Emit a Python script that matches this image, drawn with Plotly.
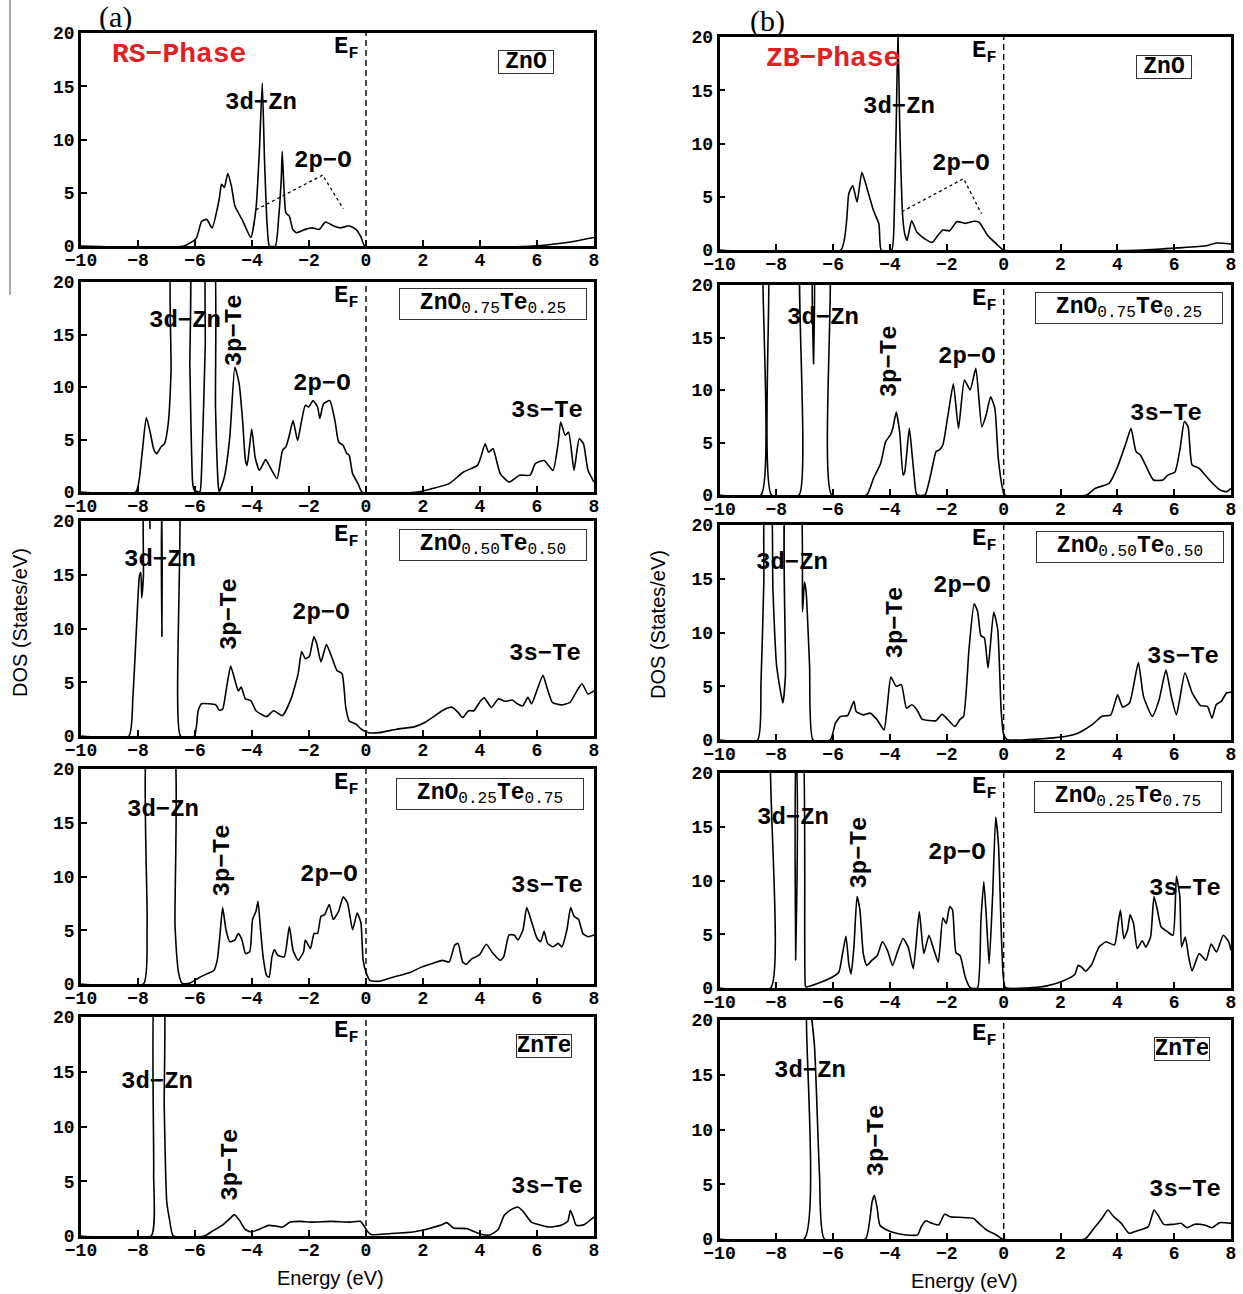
import plotly.graph_objects as go

W, H = 1243, 1294
MONO = "Liberation Mono"

# ---------------- data: (energy in eV, DOS in states/eV) ----------------
rs_zno = [(-10, 0), (-6.39, 0), (-5.96, 0.7), (-5.77, 2.3), (-5.59, 2.5), (-5.40, 1.7), (-5.15, 4.4),
          (-5.07, 5.8), (-4.97, 5.5), (-4.85, 6.8), (-4.72, 5.6), (-4.60, 3.75), (-4.35, 2.5), (-4.04, 0.8),
          (-3.86, 3.5), (-3.74, 9.0), (-3.64, 15.3), (-3.56, 8.0), (-3.47, 2.0), (-3.39, 0), (-3.18, 0),
          (-3.06, 2.8), (-2.97, 6.5), (-2.94, 8.9), (-2.88, 5.5), (-2.81, 3.1), (-2.69, 2.8), (-2.57, 1.56),
          (-2.44, 1.25), (-2.13, 1.56), (-1.89, 1.7), (-1.64, 1.56), (-1.42, 2.25), (-1.15, 1.9), (-0.90, 1.7),
          (-0.60, 1.9), (-0.35, 1.56), (-0.17, 0.8), (-0.04, 0), (5.88, 0), (6.99, 0.3), (8.0, 0.8)]

rs_zno75 = [(-10, 0), (-8.08, 0), (-7.87, 3.33), (-7.71, 7.1), (-7.59, 5.9), (-7.44, 4.0), (-7.34, 3.65),
            (-7.19, 4.3), (-7.07, 4.6), (-6.94, 6.5), (-6.84, 11.6), (-6.78, 24), (-6.25, 24), (-6.18, 12),
            (-6.08, 0.8), (-6.02, 0.16), (-5.83, 0), (-5.77, 2), (-5.64, 14), (-5.58, 24), (-5.36, 24),
            (-5.28, 8), (-5.18, 0.5), (-5.15, 0), (-4.97, 1.43), (-4.78, 5.2), (-4.60, 11.9), (-4.45, 10.3),
            (-4.33, 6.8), (-4.23, 3.0), (-4.17, 2.54), (-4.01, 6.0), (-3.89, 3.3), (-3.74, 2.06), (-3.52, 3.08),
            (-3.37, 2.38), (-3.12, 1.27), (-2.93, 3.97), (-2.81, 4.3), (-2.69, 5.4), (-2.56, 6.8), (-2.40, 4.9),
            (-2.26, 6.8), (-2.13, 8.25), (-2.01, 8.1), (-1.86, 8.7), (-1.70, 8.1), (-1.62, 7.0), (-1.49, 8.4),
            (-1.27, 8.7), (-1.09, 6.8), (-0.96, 4.76), (-0.80, 4.44), (-0.68, 3.7), (-0.59, 3.5), (-0.47, 1.75),
            (-0.28, 0.8), (-0.14, 0), (1.81, 0), (2.31, 0.32), (2.92, 0.8), (3.42, 1.9), (3.91, 2.54),
            (4.03, 3.33), (4.18, 4.6), (4.30, 3.8), (4.46, 4.13), (4.58, 3.0), (4.71, 1.75), (5.02, 0.95),
            (5.39, 1.6), (5.76, 1.6), (5.94, 2.7), (6.25, 3.0), (6.56, 2.06), (6.74, 4.6), (6.83, 6.67),
            (6.99, 5.4), (7.11, 5.7), (7.30, 2.06), (7.48, 5.08), (7.63, 4.6), (7.79, 2.06), (8.0, 0.95)]

rs_zno50 = [(-10, 0), (-8.32, 0), (-8.18, 3.6), (-8.05, 10.2), (-7.95, 14.9), (-7.90, 15.2), (-7.87, 12.85),
            (-7.81, 14.9), (-7.77, 24), (-7.62, 24), (-7.58, 19.3), (-7.54, 24), (-7.26, 24), (-7.16, 9.25),
            (-7.06, 24), (-6.62, 24), (-6.51, 0), (-6.02, 0), (-5.89, 2.35), (-5.77, 3.0), (-5.52, 3.0),
            (-5.27, 2.9), (-5.15, 2.4), (-5.03, 2.5), (-4.91, 4.2), (-4.75, 6.5), (-4.60, 5.2), (-4.48, 4.2),
            (-4.38, 4.55), (-4.23, 3.45), (-4.04, 3.3), (-3.86, 2.35), (-3.49, 1.8), (-3.24, 2.35), (-2.93, 1.9),
            (-2.63, 3.45), (-2.38, 5.8), (-2.26, 7.85), (-2.13, 7.2), (-1.99, 7.4), (-1.83, 9.25), (-1.73, 8.6),
            (-1.58, 6.9), (-1.39, 8.5), (-1.21, 7.4), (-1.02, 6.1), (-0.84, 5.8), (-0.71, 2.66), (-0.59, 1.4),
            (-0.35, 1.1), (-0.16, 0.63), (0.09, 0.31), (0.46, 0.31), (1.07, 0.63), (1.69, 0.85), (2.06, 1.25),
            (2.43, 1.9), (2.67, 2.35), (2.92, 2.66), (3.04, 2.66), (3.23, 2.2), (3.39, 1.72), (3.60, 2.35),
            (3.78, 2.35), (4.03, 3.3), (4.15, 3.55), (4.40, 2.66), (4.64, 3.45), (4.88, 3.23), (5.13, 3.35),
            (5.31, 3.0), (5.50, 2.8), (5.68, 3.6), (5.81, 3.0), (5.99, 4.2), (6.21, 5.65), (6.36, 4.4),
            (6.54, 3.13), (6.85, 2.9), (7.16, 3.13), (7.40, 4.2), (7.58, 4.86), (7.79, 3.9), (8.0, 4.2)]

rs_zno25 = [(-10, 0), (-7.81, 0), (-7.68, 5.35), (-7.60, 24), (-6.82, 24), (-6.70, 5.35), (-6.57, 0.94),
            (-6.45, 0.06), (-6.20, 0.06), (-5.83, 0.63), (-5.59, 0.94), (-5.34, 1.26), (-5.22, 2.2), (-5.12, 4.7),
            (-5.03, 7.1), (-4.91, 5.0), (-4.78, 3.94), (-4.60, 4.1), (-4.48, 4.7), (-4.35, 4.1), (-4.23, 2.83),
            (-4.08, 3.0), (-3.98, 6.0), (-3.86, 6.77), (-3.79, 7.7), (-3.71, 5.35), (-3.61, 2.52), (-3.49, 0.8),
            (-3.40, 0.63), (-3.30, 2.52), (-3.21, 3.2), (-3.10, 2.68), (-2.87, 2.52), (-2.69, 5.35), (-2.56, 3.15),
            (-2.38, 2.2), (-2.19, 3.0), (-2.13, 4.1), (-1.95, 3.3), (-1.82, 4.7), (-1.70, 4.7), (-1.58, 6.3),
            (-1.45, 6.45), (-1.29, 7.4), (-1.15, 6.0), (-0.96, 6.77), (-0.80, 8.1), (-0.65, 7.55), (-0.47, 5.05),
            (-0.31, 6.6), (-0.18, 5.7), (-0.10, 2.2), (0.02, 0.94), (0.15, 0.31), (0.46, 0.25), (0.95, 0.63),
            (1.57, 1.1), (1.94, 1.57), (2.31, 1.9), (2.68, 2.2), (2.92, 2.05), (3.11, 3.6), (3.23, 3.78),
            (3.39, 2.05), (3.52, 1.83), (3.72, 2.36), (3.97, 2.68), (4.22, 3.7), (4.46, 2.83), (4.71, 2.2),
            (4.83, 2.52), (5.02, 4.56), (5.20, 4.56), (5.33, 4.1), (5.51, 5.05), (5.64, 7.1), (5.82, 5.7),
            (6.00, 4.25), (6.13, 3.94), (6.25, 4.9), (6.37, 3.78), (6.56, 3.46), (6.74, 3.78), (6.87, 3.46),
            (7.05, 5.05), (7.18, 7.1), (7.30, 6.3), (7.46, 6.0), (7.61, 4.7), (7.79, 4.4), (8.0, 4.56)]

rs_znte = [(-10, 0), (-7.54, 0), (-7.45, 5.8), (-7.38, 24), (-7.13, 24), (-7.08, 11.9), (-6.99, 3.1),
           (-6.90, 1.6), (-6.76, 0), (-5.67, 0), (-5.40, 0.43), (-5.05, 0.97), (-4.78, 1.58), (-4.62, 1.95),
           (-4.44, 1.43), (-4.24, 0.6), (-4.03, 0.37), (-3.76, 0.6), (-3.42, 0.97), (-3.15, 0.9), (-2.94, 0.8),
           (-2.66, 1.27), (-2.32, 1.34), (-1.91, 1.27), (-1.23, 1.34), (-0.55, 1.27), (-0.20, 1.34), (0.07, 0.37),
           (0.20, 0.12), (0.82, 0.21), (1.64, 0.37), (2.19, 0.67), (2.60, 0.97), (2.84, 1.22), (3.07, 0.73),
           (3.55, 0.67), (3.89, 0.3), (4.10, 0.12), (4.37, 0.12), (4.64, 0.6), (4.85, 1.89), (5.05, 2.34),
           (5.33, 2.65), (5.53, 2.19), (5.80, 1.27), (6.08, 1.03), (6.42, 0.82), (6.83, 0.97), (7.08, 1.34),
           (7.17, 2.34), (7.27, 1.73), (7.38, 0.97), (7.65, 1.03), (8.0, 1.73)]

zb_zno = [(-10, 0), (-5.73, 0), (-5.45, 5.3), (-5.31, 6.05), (-5.16, 4.5), (-4.99, 7.3), (-4.82, 5.9),
          (-4.58, 3.7), (-4.39, 2.45), (-4.31, 0), (-3.94, 0), (-3.85, 3.4), (-3.78, 12), (-3.72, 20.5),
          (-3.66, 12), (-3.55, 3.0), (-3.48, 1.5), (-3.40, 0.9), (-3.24, 2.75), (-3.05, 1.66), (-2.75, 1.0),
          (-2.51, 0.72), (-2.32, 1.35), (-2.14, 1.88), (-1.90, 1.8), (-1.65, 2.66), (-1.35, 2.5), (-1.04, 2.7),
          (-0.86, 2.6), (-0.56, 1.35), (-0.25, 0.56), (-0.01, 0), (4.93, 0), (6.15, 0.2), (7.12, 0.4),
          (7.49, 0.66), (8.0, 0.56)]

zb_zno75 = [(-10, 0), (-8.54, 0), (-8.45, 24), (-8.30, 24), (-8.17, 0), (-7.20, 0), (-7.12, 24), (-6.74, 24),
            (-6.69, 12.5), (-6.65, 24), (-6.18, 24), (-6.05, 0), (-4.82, 0), (-4.58, 1.6), (-4.33, 3.0),
            (-4.15, 5.1), (-3.99, 5.7), (-3.90, 6.35), (-3.78, 7.9), (-3.66, 6.0), (-3.54, 1.9), (-3.48, 2.2),
            (-3.32, 6.35), (-3.21, 3.5), (-3.09, 0.3), (-3.05, 0), (-2.77, 0), (-2.57, 1.9), (-2.38, 4.13),
            (-2.26, 4.3), (-2.14, 4.76), (-1.96, 7.6), (-1.77, 10.6), (-1.59, 6.35), (-1.38, 10.95), (-1.18, 10.0),
            (-0.98, 12.06), (-0.77, 6.5), (-0.62, 7.6), (-0.46, 9.36), (-0.31, 8.25), (-0.19, 3.5), (-0.04, 0.63),
            (0.03, 0), (2.92, 0), (3.22, 0.63), (3.71, 1.1), (4.01, 2.7), (4.32, 5.08), (4.48, 6.35), (4.66, 4.13),
            (4.81, 3.8), (4.99, 2.86), (5.27, 1.43), (5.60, 1.43), (5.78, 1.9), (6.03, 2.2), (6.21, 4.44),
            (6.36, 7.0), (6.49, 6.5), (6.63, 2.86), (6.88, 2.54), (7.24, 1.43), (7.61, 0.48), (7.85, 0.32),
            (8.0, 0.63)]

zb_zno50 = [(-10, 0), (-8.66, 0), (-8.54, 5.3), (-8.44, 14.7), (-8.38, 24), (-8.22, 24), (-8.12, 14),
            (-7.99, 6.9), (-7.77, 3.44), (-7.68, 6.0), (-7.62, 24), (-7.20, 24), (-7.08, 11.9), (-7.01, 14.7),
            (-6.95, 13.75), (-6.83, 6.9), (-6.71, 0), (-6.10, 0), (-5.92, 1.56), (-5.74, 2.2), (-5.49, 2.28),
            (-5.27, 3.6), (-5.19, 2.66), (-4.94, 2.34), (-4.70, 2.5), (-4.46, 1.9), (-4.21, 0.94), (-4.09, 3.3),
            (-3.97, 5.85), (-3.78, 5.0), (-3.60, 5.15), (-3.42, 2.97), (-3.23, 3.28), (-3.05, 2.8), (-2.87, 1.94),
            (-2.38, 1.8), (-2.17, 2.4), (-1.96, 1.88), (-1.71, 1.25), (-1.53, 1.94), (-1.41, 2.2), (-1.22, 8.44),
            (-1.04, 12.66), (-0.92, 12.0), (-0.80, 9.7), (-0.68, 9.5), (-0.55, 6.7), (-0.35, 11.9), (-0.21, 10.3),
            (-0.09, 2.8), (-0.01, 0.63), (0.11, 0.06), (1.52, 0.15), (2.25, 0.37), (2.61, 0.63), (3.10, 1.4),
            (3.46, 2.2), (3.77, 2.34), (4.01, 4.2), (4.19, 3.06), (4.43, 3.44), (4.74, 7.2), (4.92, 4.06),
            (5.23, 2.2), (5.47, 3.75), (5.71, 6.5), (5.90, 4.06), (6.08, 2.34), (6.38, 6.25), (6.63, 4.4),
            (6.93, 3.2), (7.17, 3.13), (7.33, 2.03), (7.48, 3.28), (7.66, 3.6), (7.85, 4.4), (8.0, 4.44)]

zb_zno25 = [(-10, 0), (-8.20, 0), (-8.12, 24), (-7.42, 24), (-7.32, 2.6), (-7.25, 24), (-7.10, 24),
            (-6.98, 0.2), (-6.95, 0.1), (-6.53, 0.44), (-6.04, 1.0), (-5.80, 1.47), (-5.67, 3.2), (-5.55, 4.8),
            (-5.45, 2.25), (-5.37, 1.3), (-5.27, 3.8), (-5.16, 8.5), (-5.06, 7.3), (-4.94, 3.2), (-4.82, 2.1),
            (-4.64, 2.57), (-4.45, 3.0), (-4.27, 4.3), (-4.09, 3.5), (-3.91, 2.1), (-3.72, 3.5), (-3.54, 4.6),
            (-3.36, 3.8), (-3.18, 1.8), (-2.97, 7.1), (-2.81, 3.2), (-2.63, 4.9), (-2.45, 3.5), (-2.30, 2.4),
            (-2.14, 6.5), (-2.02, 6.0), (-1.90, 7.57), (-1.80, 7.26), (-1.68, 3.3), (-1.53, 3.0), (-1.35, 1.0),
            (-1.17, 0), (-0.92, 0), (-0.80, 6.3), (-0.70, 9.9), (-0.61, 6.6), (-0.51, 2.25), (-0.39, 8.5),
            (-0.28, 15.9), (-0.18, 13.2), (-0.06, 3.5), (0.06, 0.06), (0.79, 0), (1.52, 0.2), (2.13, 0.7),
            (2.50, 1.25), (2.62, 2.1), (2.74, 1.94), (2.89, 1.56), (3.11, 2.25), (3.35, 3.8), (3.60, 4.3),
            (3.90, 4.0), (4.02, 5.85), (4.11, 7.26), (4.23, 4.6), (4.36, 5.4), (4.45, 6.8), (4.57, 6.0),
            (4.70, 3.66), (4.88, 4.4), (5.00, 3.8), (5.17, 4.75), (5.29, 8.5), (5.41, 7.26), (5.54, 5.7),
            (5.78, 5.2), (5.96, 4.9), (6.08, 10.4), (6.20, 8.5), (6.26, 3.8), (6.39, 4.75), (6.51, 2.9),
            (6.63, 1.6), (6.88, 3.2), (7.12, 2.57), (7.30, 4.1), (7.49, 3.35), (7.73, 4.9), (7.92, 4.3),
            (8.0, 3.5)]

zb_znte = [(-10, 0), (-7.02, 0), (-6.93, 20.5), (-6.82, 21), (-6.66, 17.7), (-6.48, 5.85), (-6.31, 0),
           (-4.86, 0), (-4.72, 1.58), (-4.63, 3.4), (-4.55, 4.0), (-4.45, 2.8), (-4.36, 1.28), (-4.11, 0.82),
           (-3.78, 0.52), (-3.44, 0.37), (-3.03, 0.37), (-2.90, 1.13), (-2.74, 1.67), (-2.52, 1.43),
           (-2.29, 1.28), (-2.08, 2.25), (-1.88, 2.04), (-1.54, 1.98), (-1.07, 1.89), (-0.87, 1.43),
           (-0.60, 0.82), (-0.26, 0.37), (-0.05, 0), (2.86, 0), (3.13, 0.82), (3.46, 1.89), (3.67, 2.65),
           (3.87, 2.04), (4.14, 1.43), (4.41, 0.52), (4.68, 0.73), (5.09, 1.13), (5.29, 2.65), (5.43, 2.19),
           (5.63, 1.34), (5.97, 1.34), (6.24, 1.43), (6.45, 1.03), (6.72, 1.34), (7.06, 1.28), (7.33, 1.03),
           (7.60, 1.49), (8.0, 1.43)]

# dotted guide lines pointing from the "2p-O" label
rs_zno_2p_guide = [(-3.86, 3.4), (-1.52, 6.66), (-0.80, 3.5)]
zb_zno_2p_guide = [(-3.58, 3.6), (-1.41, 6.7), (-0.78, 3.4)]

fermi_level = [(0, 0), (0, 20)]

x_ticks = [-10, -8, -6, -4, -2, 0, 2, 4, 6, 8]
y_ticks = [0, 5, 10, 15, 20]

SUBSTYLE = "<sub><span style='font-weight:normal'>{}</span></sub>"
compounds = ["ZnO",
             "ZnO" + SUBSTYLE.format("0.75") + "Te" + SUBSTYLE.format("0.25"),
             "ZnO" + SUBSTYLE.format("0.50") + "Te" + SUBSTYLE.format("0.50"),
             "ZnO" + SUBSTYLE.format("0.25") + "Te" + SUBSTYLE.format("0.75"),
             "ZnTe"]

# ---------------- layout geometry (pixels) ----------------
left_x_px = (81, 594)
right_x_px = (719.5, 1231)
left_rows_px = [(33, 246), (282, 492), (521, 736), (769, 984), (1017, 1236)]
right_rows_px = [(37, 250), (285, 495), (525, 740), (773, 988), (1020, 1239)]

series = [rs_zno, rs_zno75, rs_zno50, rs_zno25, rs_znte,
          zb_zno, zb_zno75, zb_zno50, zb_zno25, zb_znte]

# label positions (data coords) per panel
labels = {
    1: [("3d−Zn", -3.68, 13.5, 0), ("2p−O", -1.51, 8.0, 0)],
    2: [("3d−Zn", -6.35, 16.3, 0), ("3p−Te", -4.63, 15.4, -90), ("2p−O", -1.54, 10.3, 0), ("3s−Te", 6.35, 7.8, 0)],
    3: [("3d−Zn", -7.23, 16.4, 0), ("3p−Te", -4.77, 11.35, -90), ("2p−O", -1.58, 11.5, 0), ("3s−Te", 6.28, 7.7, 0)],
    4: [("3d−Zn", -7.12, 16.2, 0), ("3p−Te", -5.05, 11.5, -90), ("2p−O", -1.30, 10.2, 0), ("3s−Te", 6.35, 9.2, 0)],
    5: [("3d−Zn", -7.33, 14.15, 0), ("3p−Te", -4.74, 6.5, -90), ("3s−Te", 6.35, 4.5, 0)],
    6: [("3d−Zn", -3.70, 13.5, 0), ("2p−O", -1.51, 8.1, 0)],
    7: [("3d−Zn", -6.37, 16.9, 0), ("3p−Te", -4.01, 12.7, -90), ("2p−O", -1.30, 13.2, 0), ("3s−Te", 5.70, 7.8, 0)],
    8: [("3d−Zn", -7.46, 16.5, 0), ("3p−Te", -3.80, 10.9, -90), ("2p−O", -1.48, 14.4, 0), ("3s−Te", 6.30, 7.8, 0)],
    9: [("3d−Zn", -7.43, 15.9, 0), ("3p−Te", -5.07, 12.56, -90), ("2p−O", -1.65, 12.56, 0), ("3s−Te", 6.37, 9.3, 0)],
    10: [("3d−Zn", -6.83, 15.4, 0), ("3p−Te", -4.51, 8.95, -90), ("3s−Te", 6.37, 4.5, 0)],
}
box_pos = {1: (5.61, 17.3), 2: (4.46, 17.9), 3: (4.46, 17.77), 4: (4.35, 17.7), 5: (6.25, 17.35),
           6: (5.63, 17.2), 7: (4.40, 17.8), 8: (4.44, 17.95), 9: (4.37, 17.8), 10: (6.27, 17.35)}

fig = go.Figure()
layout = dict(width=W, height=H, margin=dict(l=0, r=0, t=0, b=0, pad=0, autoexpand=False),
              paper_bgcolor="white", plot_bgcolor="white", showlegend=False)
annotations = []
shapes = []

tickfont = dict(family=MONO, size=18, color="black", weight="bold")

for i in range(10):
    n = i + 1
    col = 0 if i < 5 else 1
    row = i % 5
    xpx = left_x_px if col == 0 else right_x_px
    ypx = (left_rows_px if col == 0 else right_rows_px)[row]
    xs = "" if n == 1 else str(n)
    common = dict(showline=True, linewidth=2.5, linecolor="black", mirror=True,
                  ticks="inside", ticklen=6, tickwidth=1.5, tickcolor="black",
                  showgrid=False, zeroline=False, tickfont=tickfont, automargin=False)
    layout["xaxis" + xs] = dict(domain=[xpx[0] / W, xpx[1] / W], range=[-10, 8],
                                tickvals=x_ticks, anchor="y" + xs, ticklabelstandoff=-4, **common)
    layout["yaxis" + xs] = dict(domain=[1 - ypx[1] / H, 1 - ypx[0] / H], range=[0, 20],
                                tickvals=y_ticks, anchor="x" + xs, **common)

    pts = series[i]
    fig.add_trace(go.Scatter(x=[p[0] for p in pts], y=[p[1] for p in pts], mode="lines",
                             line=dict(color="black", width=1.6, shape="spline", smoothing=0.5),
                             xaxis="x" + xs, yaxis="y" + xs, hoverinfo="skip"))
    fig.add_trace(go.Scatter(x=[p[0] for p in fermi_level], y=[p[1] for p in fermi_level], mode="lines",
                             line=dict(color="black", width=1.4, dash="6px,4px"),
                             xaxis="x" + xs, yaxis="y" + xs, hoverinfo="skip"))
    if n in (1, 6):
        g = rs_zno_2p_guide if n == 1 else zb_zno_2p_guide
        fig.add_trace(go.Scatter(x=[p[0] for p in g], y=[p[1] for p in g], mode="lines",
                                 line=dict(color="black", width=1.3, dash="dot"),
                                 xaxis="x" + xs, yaxis="y" + xs, hoverinfo="skip"))

    for (txt, lx, ly, ang) in labels[n]:
        annotations.append(dict(xref="x" + xs, yref="y" + xs, x=lx, y=ly, text=txt, showarrow=False,
                                textangle=ang, xanchor="center", yanchor="middle",
                                font=dict(family=MONO, size=24, color="black", weight="bold")))
    # Fermi level label
    annotations.append(dict(xref="x" + xs, yref="y" + xs, x=-0.2, y=18.6, text="E<sub>F</sub>",
                            showarrow=False, xanchor="right", yanchor="middle",
                            font=dict(family=MONO, size=24, color="black", weight="bold")))
    # compound box
    comp = compounds[row]
    bx, by = box_pos[n]
    if row in (0, 4):
        bw, bh = 52, 20
    else:
        bw, bh = 184, 28
    annotations.append(dict(xref="x" + xs, yref="y" + xs, x=bx, y=by, text=comp, showarrow=False,
                            xanchor="center", yanchor="middle", width=bw, height=bh,
                            bordercolor="#333333", borderwidth=1, borderpad=1,
                            font=dict(family=MONO, size=23, color="black", weight="bold")))

# phase labels
annotations.append(dict(xref="x", yref="y", x=-8.98, y=18.0, text="RS−Phase", showarrow=False,
                        xanchor="left", yanchor="middle",
                        font=dict(family=MONO, size=28, color="#e3201f", weight="bold")))
annotations.append(dict(xref="x6", yref="y6", x=-8.45, y=18.0, text="ZB−Phase", showarrow=False,
                        xanchor="left", yanchor="middle",
                        font=dict(family=MONO, size=28, color="#e3201f", weight="bold")))

# panel letters, axis titles
def paper(px, py):
    return px / W, 1 - py / H

for txt, (px, py) in [("(a)", (115, 17)), ("(b)", (767, 21))]:
    x, y = paper(px, py)
    annotations.append(dict(xref="paper", yref="paper", x=x, y=y, text=txt, showarrow=False,
                            xanchor="center", yanchor="middle",
                            font=dict(family="Liberation Serif", size=30, color="black")))
for px, py in [(330, 1278), (964, 1281)]:
    x, y = paper(px, py)
    annotations.append(dict(xref="paper", yref="paper", x=x, y=y, text="Energy (eV)", showarrow=False,
                            xanchor="center", yanchor="middle",
                            font=dict(family="Liberation Sans", size=20, color="black")))
for px, py in [(20, 623), (658, 625)]:
    x, y = paper(px, py)
    annotations.append(dict(xref="paper", yref="paper", x=x, y=y, text="DOS (States/eV)", showarrow=False,
                            textangle=-90, xanchor="center", yanchor="middle",
                            font=dict(family="Liberation Sans", size=20, color="black")))

# thin edge rule at the far left of the figure
shapes.append(dict(type="line", xref="paper", yref="paper", x0=10 / W, x1=10 / W,
                   y0=1, y1=1 - 295 / H, line=dict(color="#555555", width=1)))

layout["annotations"] = annotations
layout["shapes"] = shapes
fig.update_layout(**layout)
fig.write_html("out.html")
